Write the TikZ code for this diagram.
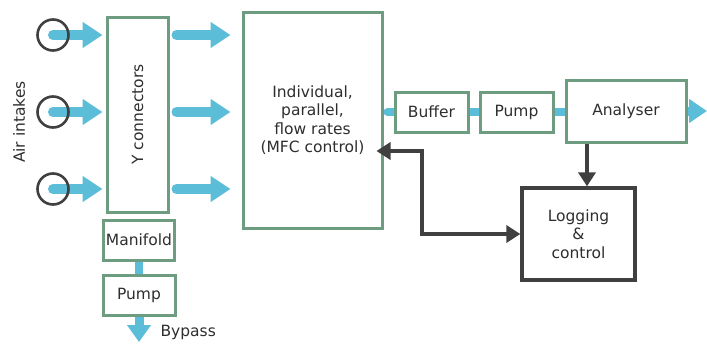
\documentclass[tikz,border=0pt]{standalone}
\usepackage{fontspec}
\setmainfont{DejaVu Sans}
\usetikzlibrary{arrows.meta,backgrounds}

\definecolor{boxgreen}{HTML}{6E9C80}
\definecolor{flowblue}{HTML}{5BBDD8}
\definecolor{ctrlgray}{HTML}{404040}
\definecolor{txtgray}{HTML}{2E2E2E}

\tikzset{
  unit/.style={draw=boxgreen, line width=3pt, fill=white, inner sep=0pt,
    text=txtgray, align=center},
  logbox/.style={draw=ctrlgray, line width=3.3pt, fill=white, inner sep=0pt,
    text=txtgray, align=center},
  intake/.style={circle, draw=ctrlgray, line width=2.6pt, minimum size=31pt, inner sep=0pt},
  flowarrow/.style={flowblue, line width=10pt, line cap=round,
    -{Triangle[length=20pt,width=25pt]}},
  link/.style={flowblue, line width=8pt, line cap=round},
  ctrl/.style={ctrlgray, line width=3.5pt, -{Triangle[length=14pt,width=17pt]}},
  dctrl/.style={ctrlgray, line width=3.5pt,
    {Triangle[length=14pt,width=17pt]}-{Triangle[length=14pt,width=17pt]}},
}

\begin{document}
\begin{tikzpicture}[x=1pt,y=-1pt,font=\fontsize{15.5}{18.5}\selectfont]
\useasboundingbox (0,0) rectangle (707,343);

% Intakes and Y connectors
\node[intake] (in1) at (53,35) {};
\node[intake] (in2) at (53,112) {};
\node[intake] (in3) at (53,189) {};
\node[rotate=90,text=txtgray] (air) at (19,122) {Air intakes};
\node[unit,minimum width=61pt,minimum height=195pt] (ycon) at (137.5,114.5) {};
\node[rotate=90,text=txtgray] at (ycon.center) {Y connectors};
\node[unit,minimum width=71pt,minimum height=40pt] (manifold) at (139,240) {Manifold};
\node[unit,minimum width=72pt,minimum height=40pt] (pumpa) at (139,295) {Pump};
\node[text=txtgray,anchor=west] (bypasslabel) at (157,332) {Bypass};
\coordinate (bypass) at (139,342);

% Flow control and analysis line
\node[unit,minimum width=139pt,minimum height=216pt] (mfc) at (312.5,120)
  {Individual,\\parallel,\\flow rates\\(MFC control)};
\node[unit,minimum width=73pt,minimum height=40pt] (buffer) at (431.5,112) {Buffer};
\node[unit,minimum width=73pt,minimum height=40pt] (pumpb) at (516.5,112) {Pump};
\node[unit,minimum width=120pt,minimum height=62pt] (analyser) at (626,111) {Analyser};
\coordinate (out) at (707,111);

% Logging
\node[logbox,minimum width=113pt,minimum height=92pt] (logging) at (578.5,234)
  {Logging\\\&\\control};
\coordinate (tap) at (587,0);
\coordinate (bend) at (422,151);

\begin{scope}[on background layer]
\foreach \i in {1,2,3} {
  \draw[flowarrow,shorten >=3pt] (in\i.center) -- (ycon.west |- in\i);
  \draw[flowarrow,shorten <=7pt,shorten >=11pt] (ycon.east |- in\i) -- (mfc.west |- in\i);
}
\draw[link,shorten <=4pt] (mfc.east |- buffer) -- (buffer.west);
\draw[link] (buffer.east) -- (pumpb.west);
\draw[link] (pumpb.east) -- (analyser.west |- pumpb);
\draw[flowblue,line width=9pt,-{Triangle[length=18pt,width=23pt]}] (analyser.east) -- (out);
\draw[link] (manifold.south) -- (pumpa.north);
\draw[flowblue,line width=9pt,-{Triangle[length=17pt,width=23pt]}] (pumpa.south) -- (bypass);
\end{scope}

\draw[ctrl] (analyser.south -| tap) -- (logging.north -| tap);
\draw[dctrl,shorten <=-7pt] (mfc.east |- bend) -- (bend) |- (logging.west);
\end{tikzpicture}
\end{document}
